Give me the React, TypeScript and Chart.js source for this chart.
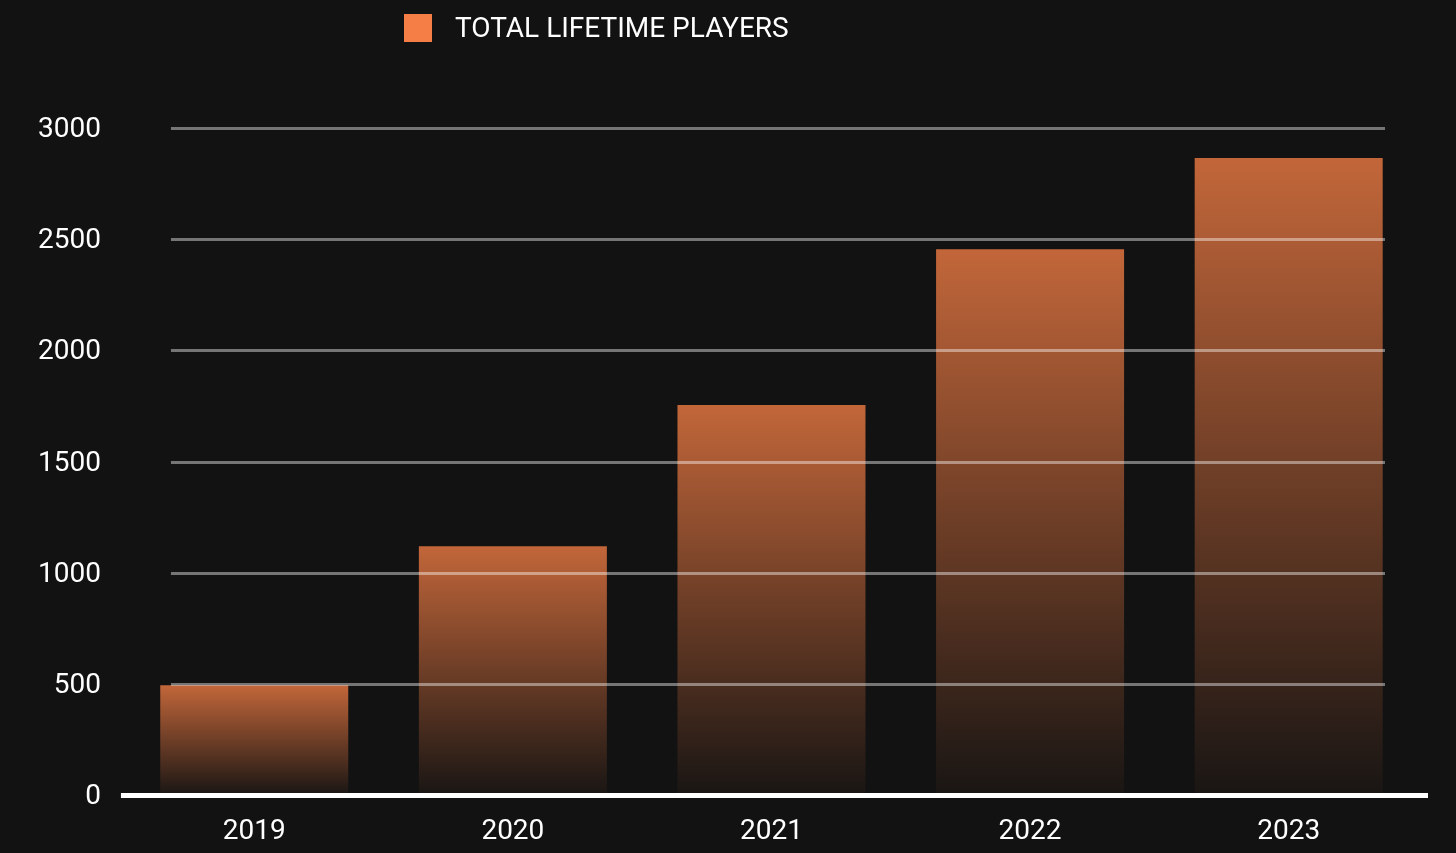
import React, { useEffect, useRef } from "react";
import { Chart, registerables } from "chart.js";

Chart.register(...registerables);

const categories = ["2019", "2020", "2021", "2022", "2023"];
const seriesLabel = "TOTAL LIFETIME PLAYERS";
const playerValues = [495, 1120, 1755, 2455, 2865];
const yTicks = [0, 500, 1000, 1500, 2000, 2500, 3000];

const BG = "#121212";
const ORANGE = "244,126,69";
const FONT = "Roboto, 'Noto Sans', sans-serif";

const bgPlugin = {
  id: "bgFill",
  beforeDraw(chart: any) {
    const ctx = chart.ctx;
    ctx.save();
    ctx.fillStyle = BG;
    ctx.fillRect(0, 0, chart.width, chart.height);
    ctx.restore();
  },
};

const overlayPlugin = {
  id: "overlay",
  afterDatasetsDraw(chart: any) {
    const ctx = chart.ctx;
    const area = chart.chartArea;
    const y = chart.scales.y;
    ctx.save();
    // grid lines drawn over the bars
    ctx.strokeStyle = "rgba(255,255,255,0.42)";
    ctx.lineWidth = 3;
    yTicks.forEach((v) => {
      if (v === 0) return;
      const py = Math.round(y.getPixelForValue(v)) + 0.5;
      ctx.beginPath();
      ctx.moveTo(area.left + 46, py);
      ctx.lineTo(area.right - 33, py);
      ctx.stroke();
    });
    // thick white baseline
    const p0 = y.getPixelForValue(0);
    ctx.strokeStyle = "#ffffff";
    ctx.lineWidth = 5;
    ctx.beginPath();
    ctx.moveTo(area.left - 4, p0);
    ctx.lineTo(area.right + 10, p0);
    ctx.stroke();

    // legend
    ctx.fillStyle = `rgb(${ORANGE})`;
    ctx.fillRect(404, 14, 28, 28);
    ctx.fillStyle = "#ffffff";
    ctx.font = `28px ${FONT}`;
    ctx.textBaseline = "middle";
    ctx.textAlign = "left";
    ctx.fillText(chart.data.datasets[0].label, 455, 30);
    ctx.restore();
  },
};

export default function App() {
  const ref = useRef<HTMLCanvasElement | null>(null);

  useEffect(() => {
    document.body.style.margin = "0";
    document.body.style.background = BG;
    const canvas = ref.current;
    if (!canvas) return;
    const chart = new Chart(canvas, {
      type: "bar",
      data: {
        labels: categories,
        datasets: [
          {
            label: seriesLabel,
            data: playerValues,
            borderWidth: 0,
            barPercentage: 0.727,
            categoryPercentage: 1,
            backgroundColor: (context: any) => {
              const ch = context.chart;
              const area = ch.chartArea;
              if (!area || context.type !== "data") return `rgba(${ORANGE},0.78)`;
              const ys = ch.scales.y;
              const top = ys.getPixelForValue(context.raw);
              const bottom = ys.getPixelForValue(0);
              const g = ch.ctx.createLinearGradient(0, top, 0, bottom);
              g.addColorStop(0, `rgba(${ORANGE},0.78)`);
              g.addColorStop(1, `rgba(${ORANGE},0.03)`);
              return g;
            },
          },
        ],
      },
      options: {
        responsive: false,
        animation: false,
        maintainAspectRatio: false,
        layout: { padding: { top: 128, bottom: -16, left: 14, right: 38 } },
        plugins: {
          legend: { display: false },
          tooltip: { enabled: false },
        },
        scales: {
          x: {
            grid: { display: false, drawTicks: false },
            border: { display: false },
            ticks: {
              color: "#ffffff",
              font: { family: FONT, size: 28 },
              padding: 20,
            },
          },
          y: {
            min: 0,
            max: 3000,
            grid: { display: false, drawTicks: false },
            border: { display: false },
            afterBuildTicks: (scale: any) => {
              scale.ticks = yTicks.map((v) => ({ value: v }));
            },
            ticks: {
              color: "#ffffff",
              font: { family: FONT, size: 28 },
              padding: 24,
              labelOffset: 2,
              callback: (v: any) => String(v),
            },
          },
        },
      },
      plugins: [bgPlugin, overlayPlugin],
    });
    return () => chart.destroy();
  }, []);

  return (
    <div style={{ width: 1456, height: 853, background: BG }}>
      <canvas ref={ref} width={1456} height={853} style={{ display: "block" }} />
    </div>
  );
}
